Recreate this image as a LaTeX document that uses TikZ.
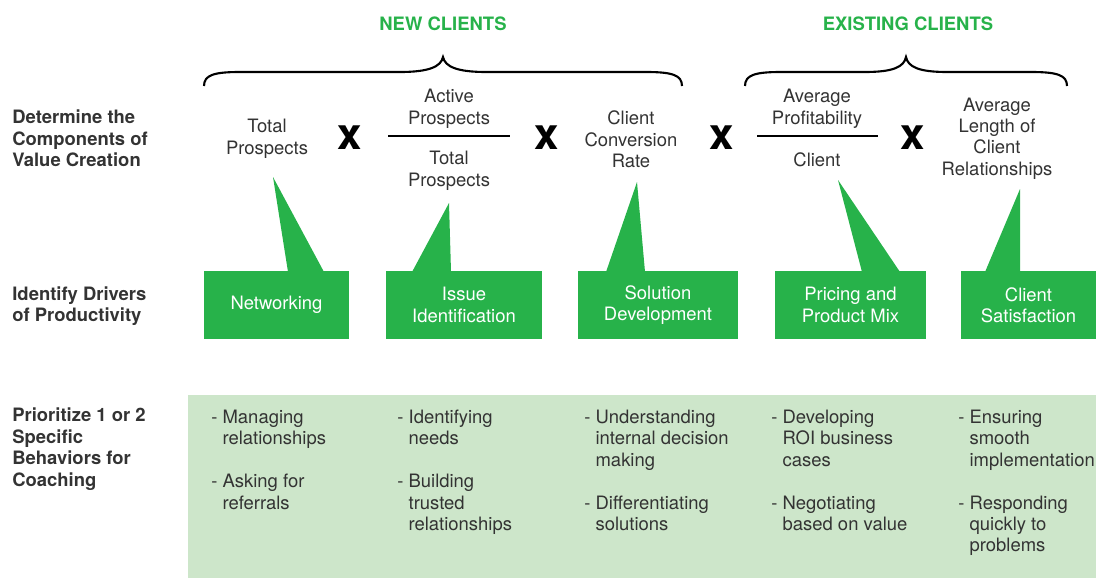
\documentclass[tikz,border=0pt]{standalone}
\usepackage{fontspec}
\setmainfont{TeX Gyre Heros}
\usetikzlibrary{calc}
\definecolor{drvgreen}{HTML}{27B24A}
\definecolor{bhvgreen}{HTML}{CDE6CA}
\definecolor{txtgray}{HTML}{333333}

\begin{document}
\begin{tikzpicture}[x=0.02cm,y=-0.02cm,
    txt/.style={align=center,inner sep=0pt,text=txtgray,font=\fontsize{10.5}{12.2}\selectfont},
    rowlbl/.style={align=left,anchor=west,inner sep=0pt,text=txtgray,font=\fontsize{10.5}{12.2}\selectfont\bfseries},
    head/.style={inner sep=0pt,text=drvgreen,font=\fontsize{10.5}{12.2}\selectfont\bfseries},
    times/.style={inner sep=0pt,text=black,font=\fontsize{25}{25}\selectfont\bfseries},
    driver/.style={fill=drvgreen,text=white,align=center,inner sep=0pt,outer sep=0pt,
        minimum height=1.36cm,font=\fontsize{10.5}{12.2}\selectfont},
    bhv/.style={align=left,anchor=north west,inner sep=0pt,text=txtgray,font=\fontsize{10.5}{12.2}\selectfont}]
            \useasboundingbox (0,0) rectangle (1096,578);

            % row labels
            \node[rowlbl] (lblA) at (12,138.5) {Determine the\\Components of\\Value Creation};
            \node[rowlbl] (lblB) at (12,306) {Identify Drivers\\of Productivity};
            \node[rowlbl] (lblC) at (12,449) {Prioritize 1 or 2\\Specific\\Behaviors for\\Coaching};

            % headings and braces
            \node[head] (newcl) at (443,23.5) {NEW CLIENTS};
            \node[head] (excl) at (908,23.5) {EXISTING CLIENTS};
            \draw[line width=1.2pt] (204,86) .. controls (204,75) and (214,72) .. (240,72) -- (400,72)
                .. controls (428,72) and (441,67) .. (443,57) .. controls (445,67) and (458,72) .. (486,72)
                -- (646,72) .. controls (672,72) and (682,75) .. (682,86);
            \draw[line width=1.2pt] (745,86) .. controls (745,75) and (755,72) .. (781,72) -- (865,72)
                .. controls (893,72) and (904,67) .. (906,57) .. controls (908,67) and (919,72) .. (947,72)
                -- (1031,72) .. controls (1057,72) and (1067,75) .. (1067,86);

            % components
            \node[txt] (totp) at (267,139) {Total\\Prospects};
            \node[times] (x1) at (350,138) {x};
            \node[txt] (actn) at (449,109) {Active\\Prospects};
            \coordinate (F1a) at (388,136);
            \coordinate (F1b) at (510,136);
            \draw[line width=1.2pt] (F1a) -- (F1b);
            \node[txt] (actd) at (449,171) {Total\\Prospects};
            \node[times] (x2) at (547,138) {x};
            \node[txt] (conv) at (631,139.5) {Client\\Conversion\\Rate};
            \node[times] (x3) at (722,138) {x};
            \node[txt] (prfn) at (817,109) {Average\\Profitability};
            \coordinate (F2a) at (757,136);
            \coordinate (F2b) at (878,136);
            \draw[line width=1.2pt] (F2a) -- (F2b);
            \node[txt] (prfd) at (817,159.5) {Client};
            \node[times] (x4) at (913,138) {x};
            \node[txt] (leng) at (997,138.5) {Average\\Length of\\Client\\Relationships};

            % drivers with callouts
            \node[driver,minimum width=2.9cm] (netw) at (276.5,305) {Networking};
            \node[driver,minimum width=3.12cm] (issue) at (464,305) {Issue\\Identification};
            \node[driver,minimum width=3.2cm] (solu) at (658,305) {Solution\\Development};
            \node[driver,minimum width=3.02cm] (price) at (850.5,305) {Pricing and\\Product Mix};
            \node[driver,minimum width=2.7cm] (satis) at (1028.5,305) {Client\\Satisfaction};

            \coordinate (T1) at (273,177);
            \coordinate (T2) at (449,203);
            \coordinate (T3) at (637,182);
            \coordinate (T4) at (838,180);
            \coordinate (T5) at (1020,189);
            \fill[drvgreen] (T1) -- ($(netw.north west)+(84,1)$) -- ($(netw.north west)+(120,1)$) -- cycle;
            \fill[drvgreen] (T2) -- ($(issue.north west)+(26,1)$) -- ($(issue.north west)+(65,1)$) -- cycle;
            \fill[drvgreen] (T3) -- ($(solu.north west)+(28,1)$) -- ($(solu.north west)+(67,1)$) -- cycle;
            \fill[drvgreen] (T4) -- ($(price.north west)+(87,1)$) -- ($(price.north west)+(125,1)$) -- cycle;
            \fill[drvgreen] (T5) -- ($(satis.north west)+(24,1)$) -- ($(satis.north west)+(59,1)$) -- cycle;

            % behaviors
            \fill[bhvgreen] (188,395) rectangle (1096,578);
            \node[bhv] (b1) at (211,409.5) {- Managing\\\hphantom{- }relationships\\[12.2pt]- Asking for\\\hphantom{- }referrals};
            \node[bhv] (b2) at (397,409.5) {- Identifying\\\hphantom{- }needs\\[12.2pt]- Building\\\hphantom{- }trusted\\\hphantom{- }relationships};
            \node[bhv] (b3) at (584,409.5) {- Understanding\\\hphantom{- }internal decision\\\hphantom{- }making\\[12.2pt]- Differentiating\\\hphantom{- }solutions};
            \node[bhv] (b4) at (771,409.5) {- Developing\\\hphantom{- }ROI business\\\hphantom{- }cases\\[12.2pt]- Negotiating\\\hphantom{- }based on value};
            \node[bhv] (b5) at (958,409.5) {- Ensuring\\\hphantom{- }smooth\\\hphantom{- }implementation\\[12.2pt]- Responding\\\hphantom{- }quickly to\\\hphantom{- }problems};
        \end{tikzpicture}
\end{document}
